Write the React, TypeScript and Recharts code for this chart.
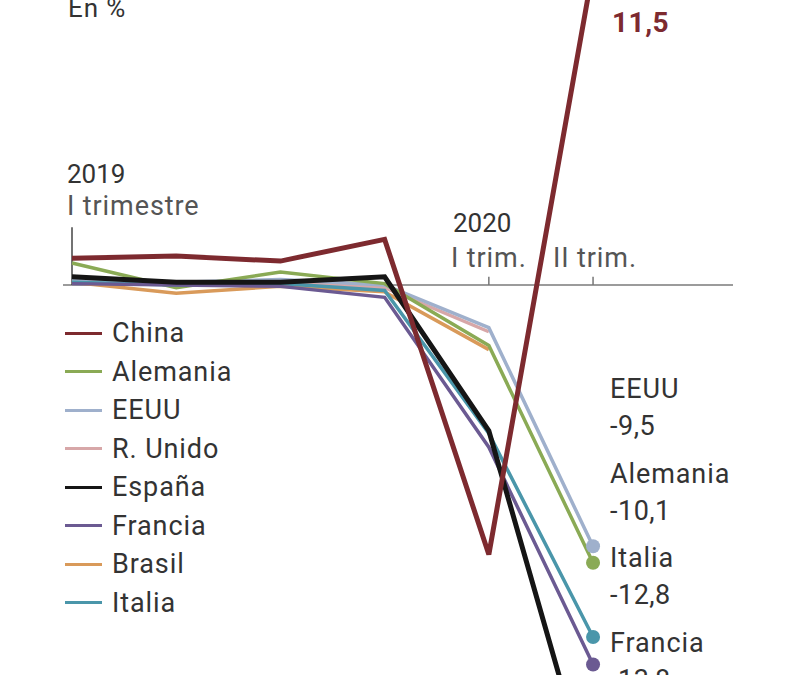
import React from 'react'
import { LineChart, Line, XAxis, YAxis, ReferenceLine } from 'recharts'

// quarters 2019 I .. 2020 II, quarterly GDP change in %
const quarters = ['2019 I', '2019 II', '2019 III', '2019 IV', '2020 I', '2020 II']
const china = [0.97, 1.05, 0.87, 1.66, -9.8, 11.5]
const alemania = [0.8, -0.1, 0.47, 0.05, -2.2, -10.1]
const eeuu = [0.2, 0.1, 0.2, 0.0, -1.55, -9.5]
const rUnido = [0.2, 0.0, 0.1, -0.1, -1.7, null]
const espana = [0.3, 0.1, 0.1, 0.3, -5.3, -18.5]
const francia = [0.05, 0.0, -0.05, -0.45, -5.9, -13.8]
const brasil = [0.1, -0.3, -0.05, -0.25, -2.35, null]
const italia = [0.1, 0.0, 0.05, -0.2, -5.4, -12.8]

const series = [
  { key: 'china', name: 'China', values: china, color: '#7d2a2f', width: 5, endDot: false },
  { key: 'alemania', name: 'Alemania', values: alemania, color: '#8aaa55', width: 3.5, endDot: true },
  { key: 'eeuu', name: 'EEUU', values: eeuu, color: '#9fb0cc', width: 3.5, endDot: true },
  { key: 'rUnido', name: 'R. Unido', values: rUnido, color: '#d7a7a8', width: 3.5, endDot: false },
  { key: 'espana', name: 'España', values: espana, color: '#151515', width: 5, endDot: true },
  { key: 'francia', name: 'Francia', values: francia, color: '#6b5a92', width: 3.5, endDot: true },
  { key: 'brasil', name: 'Brasil', values: brasil, color: '#d99a5a', width: 3.5, endDot: false },
  { key: 'italia', name: 'Italia', values: italia, color: '#4a96aa', width: 3.5, endDot: true },
]

// draw order (last on top)
const drawOrder = ['brasil', 'rUnido', 'eeuu', 'alemania', 'italia', 'francia', 'espana', 'china']

// end labels stacked on the right, top to bottom
const endLabels = ['eeuu', 'alemania', 'italia', 'francia']

const data = quarters.map((q, i) => {
  const row: any = { q, x: i }
  series.forEach(s => { row[s.key] = s.values[i] })
  return row
})

const fmt = (v: number) => v.toFixed(1).replace('.', ',')

const FONT = 'Roboto, "Noto Sans", sans-serif'
const LS = 0.9

export default function App() {
  const last = quarters.length - 1
  const byKey = (k: string) => series.find(s => s.key === k)!

  return (
    <div style={{ position: 'fixed', top: 0, left: 0, width: 800, height: 675, overflow: 'hidden', background: '#fff', fontFamily: FONT }}>
      <div style={{ position: 'absolute', top: -100, left: 0 }}>
        <LineChart width={800} height={1000} data={data} margin={{ top: 55, right: 67, bottom: 65, left: 63 }}>
          <XAxis dataKey="x" type="number" domain={[-0.0864, 6.343]} hide />
          <YAxis type="number" domain={[-20, 12]} hide />
          <ReferenceLine y={0} stroke="#7a7a7a" strokeWidth={1.5} />
          <ReferenceLine segment={[{ x: 0, y: 0 }, { x: 0, y: 2.1 }]} stroke="#444" strokeWidth={1.5} />
          <ReferenceLine segment={[{ x: 4, y: 0 }, { x: 4, y: 0.3 }]} stroke="#777" strokeWidth={1.5} />
          <ReferenceLine segment={[{ x: 5, y: 0 }, { x: 5, y: 0.3 }]} stroke="#777" strokeWidth={1.5} />
          {drawOrder.map(k => {
            const s = byKey(k)
            return (
              <Line
                key={s.key}
                type="linear"
                dataKey={s.key}
                stroke={s.color}
                strokeWidth={s.width}
                isAnimationActive={false}
                activeDot={false}
                dot={(p: any) =>
                  s.endDot && p.index === last && p.value != null ? (
                    <circle key={`d-${s.key}`} cx={p.cx} cy={p.cy} r={7} fill={s.color} stroke="none" />
                  ) : (
                    <g key={`d-${s.key}-${p.index}`} />
                  )
                }
              />
            )
          })}
        </LineChart>
      </div>

      {/* annotations */}
      <svg width={800} height={675} style={{ position: 'absolute', top: 0, left: 0, pointerEvents: 'none' }} fontFamily={FONT}>
        <text x={68} y={17} fontSize={26} fill="#333" letterSpacing={LS}>En %</text>
        <text x={612} y={32} fontSize={28} fontWeight={700} fill="#7d2a2f" letterSpacing={0.5}>{fmt(china[last])}</text>
        <text x={67} y={183} fontSize={26} fill="#333">2019</text>
        <text x={67} y={215} fontSize={27} fill="#555" letterSpacing={LS}>I trimestre</text>
        <text x={453} y={232} fontSize={26} fill="#333">2020</text>
        <text x={451} y={267} fontSize={27} fill="#555" letterSpacing={LS}>I trim.</text>
        <text x={553} y={267} fontSize={27} fill="#555" letterSpacing={LS}>II trim.</text>
        {endLabels.map((k, i) => {
          const s = byKey(k)
          const y = 398 + i * 84.7
          return (
            <g key={k}>
              <text x={610} y={y} fontSize={27} fill="#333" letterSpacing={LS}>{s.name}</text>
              <text x={610} y={y + 37} fontSize={27} fill="#333" letterSpacing={0.5}>{fmt(s.values[last] as number)}</text>
            </g>
          )
        })}
      </svg>

      {/* legend */}
      <div style={{ position: 'absolute', left: 65, top: 314 }}>
        {series.map(s => (
          <div key={s.key} style={{ display: 'flex', alignItems: 'center', height: 38.5 }}>
            <div style={{ width: 37, height: 3, background: s.color, marginRight: 10 }} />
            <span style={{ fontSize: 27, color: '#333', lineHeight: '38.5px', letterSpacing: LS }}>{s.name}</span>
          </div>
        ))}
      </div>
    </div>
  )
}
